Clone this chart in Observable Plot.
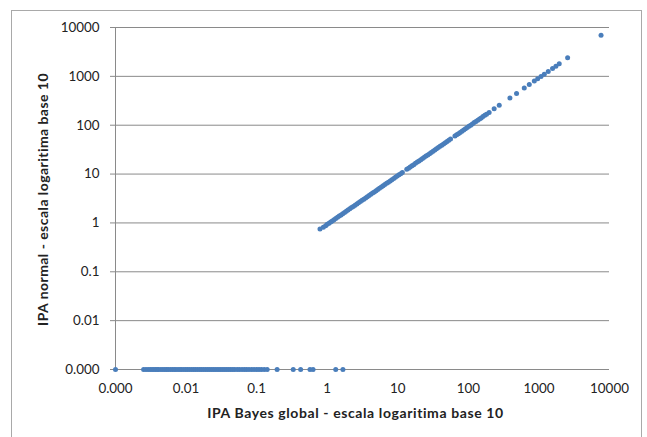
<!DOCTYPE html>
<html>
<head>
<meta charset="utf-8">
<script src="https://cdn.jsdelivr.net/npm/d3@7"></script>
<script src="https://cdn.jsdelivr.net/npm/@observablehq/plot@0.6"></script>
<style>
  html, body { margin: 0; padding: 0; background: #fff; }
  #wrap { position: relative; width: 647px; height: 437px; overflow: hidden; }
  #frame { position: absolute; left: 11px; top: 10px; width: 631px; height: 440px;
           border: 1px solid #a9a9a9; box-sizing: border-box; pointer-events: none; }
  #wrap svg { position: absolute; left: 0; top: 0; }
  .title text { letter-spacing: 0.6px; }
  .ytitle text { letter-spacing: 0.45px; }
</style>
</head>
<body>
<div id="wrap"><div id="frame"></div></div>
<script>
// Tick values (log axes) and labels
const tickValues = [0.001, 0.01, 0.1, 1, 10, 100, 1000, 10000];
const tickLabels = ["0.000", "0.01", "0.1", "1", "10", "100", "1000", "10000"];
const xTitle = "IPA Bayes global - escala logaritima base 10";
const yTitle = "IPA normal - escala logaritima base 10";

// Points along the diagonal (IPA Bayes global, IPA normal)
const diagX = [0.79, 0.88, 0.95, 1.0, 1.06, 1.12, 1.18, 1.25, 1.32, 1.4,
  1.48, 1.57, 1.66, 1.76, 1.86, 1.97, 2.09, 2.21, 2.34, 2.48,
  2.63, 2.78, 2.95, 3.12, 3.3, 3.5, 3.7, 3.92, 4.15, 4.4,
  4.65, 4.93, 5.2, 5.5, 5.85, 6.2, 6.55, 6.95, 7.35, 7.8,
  8.25, 8.75, 9.25, 9.8, 10.4, 11.0, 11.6, 13.4, 14.2, 15.0,
  15.9, 16.8, 17.8, 18.9, 20.0, 21.2, 22.4, 23.7, 25.1, 26.6,
  28.2, 29.8, 31.6, 33.5, 35.4, 37.5, 39.7, 42, 44.5, 47.1,
  49.9, 52.8, 55.9, 64.5, 68.3, 72.3, 76.6, 81.1, 85.9, 91,
  96.3, 102, 108, 114, 121, 128, 136, 144, 152, 161,
  171, 181, 197, 232, 274, 388, 482, 620, 730, 860,
  960, 1070, 1190, 1355, 1560, 1740, 1940, 2550, 7590];
const diagY = [0.75, 0.82, 0.88, 0.94, 0.98, 1.05, 1.1, 1.16, 1.23, 1.3,
  1.38, 1.46, 1.55, 1.63, 1.73, 1.83, 1.94, 2.06, 2.18, 2.3,
  2.45, 2.58, 2.74, 2.9, 3.07, 3.25, 3.44, 3.65, 3.86, 4.09,
  4.32, 4.58, 4.84, 5.12, 5.44, 5.77, 6.09, 6.46, 6.84, 7.25,
  7.67, 8.14, 8.6, 9.11, 9.67, 10.2, 10.8, 12.5, 13.2, 13.9,
  14.8, 15.6, 16.6, 17.6, 18.6, 19.7, 20.8, 22.0, 23.3, 24.7,
  26.2, 27.7, 29.4, 31.2, 32.9, 34.9, 36.9, 39.1, 41.4, 43.8,
  46.4, 49.1, 52.0, 60.0, 63.5, 67.2, 71.2, 75.4, 79.9, 84.6,
  89.6, 94.9, 100, 106, 113, 119, 126, 134, 141, 150,
  159, 168, 183, 216, 255, 361, 448, 577, 679, 800,
  893, 995, 1107, 1260, 1451, 1618, 1804, 2400, 6950];

// Points whose IPA normal sits on the "0.000" level
const zeroLevel = 0.001;
const zeroX = [0.001, 0.0025, 0.0027, 0.0029, 0.0031, 0.0033, 0.0035, 0.0037, 0.0039, 0.0041,
  0.0044, 0.0047, 0.005, 0.0053, 0.0056, 0.006, 0.0064, 0.0068, 0.0072, 0.0077,
  0.0082, 0.0087, 0.0093, 0.0099, 0.0105, 0.0112, 0.012, 0.0128, 0.0136, 0.0145,
  0.0155, 0.0165, 0.0176, 0.0188, 0.02, 0.0213, 0.0227, 0.0242, 0.0258, 0.0275,
  0.0293, 0.0312, 0.0333, 0.0355, 0.0378, 0.0403, 0.043, 0.046, 0.049, 0.053,
  0.057, 0.062, 0.067, 0.072, 0.078, 0.085, 0.092, 0.1, 0.108, 0.117,
  0.128, 0.141, 0.195, 0.33, 0.42, 0.57, 0.63, 1.32, 1.67];

const points = [
  ...zeroX.map(x => ({x, y: zeroLevel})),
  ...diagX.map((x, i) => ({x, y: diagY[i]}))
];

const fmt = v => tickLabels[tickValues.indexOf(v)] ?? String(v);
const gray = "#8a8a8a";

const chart = Plot.plot({
  width: 647,
  height: 437,
  marginLeft: 115,
  marginRight: 38,
  marginTop: 27,
  marginBottom: 68,
  style: {fontFamily: "Lato, 'Open Sans', sans-serif", fontSize: "13.4px", color: "#222", background: "transparent"},
  x: {type: "log", domain: [0.001, 10000]},
  y: {type: "log", domain: [0.001, 10000]},
  marks: [
    Plot.gridY(tickValues, {stroke: gray, strokeOpacity: 1}),
    Plot.ruleX([0.001], {stroke: gray}),
    Plot.axisY(tickValues, {
      tickFormat: fmt, tickSize: 5, tickPadding: 11, stroke: gray, fill: "#222", label: null
    }),
    Plot.axisX(tickValues, {
      tickFormat: fmt, tickSize: 0, tickPadding: 14, fill: "#222", label: null
    }),
    Plot.text([xTitle], {
      text: d => d, frameAnchor: "bottom", dy: 44, dx: -7, lineAnchor: "middle", textAnchor: "middle",
      fontWeight: "bold", fontSize: 14, fill: "#222", className: "title"
    }),
    Plot.text([yTitle], {
      text: d => d, frameAnchor: "left", dx: -72, dy: 1, rotate: -90, lineAnchor: "middle", textAnchor: "middle",
      fontWeight: "bold", fontSize: 14, fill: "#222", className: "ytitle"
    }),
    Plot.dot(points, {x: "x", y: "y", r: 2.5, fill: "#4a7ebb", stroke: null})
  ]
});
document.getElementById("wrap").appendChild(chart);
</script>
</body>
</html>
